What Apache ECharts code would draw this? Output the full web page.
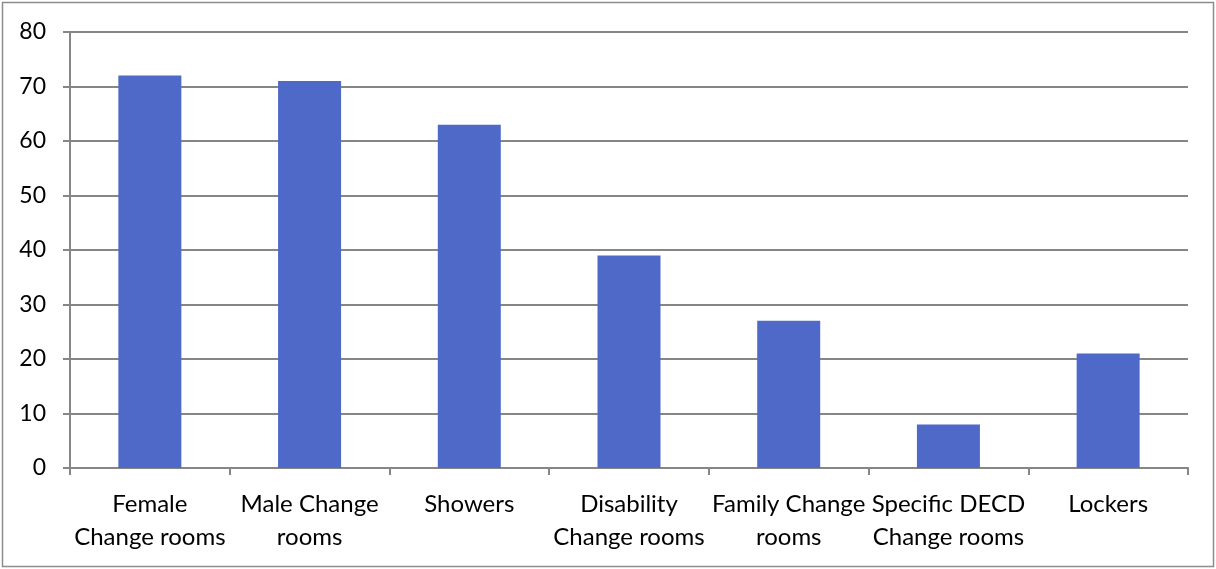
<!DOCTYPE html>
<html>
<head>
<meta charset="utf-8">
<script src="https://cdn.jsdelivr.net/npm/echarts@6/dist/echarts.min.js"></script>
<style>
  html, body { margin: 0; padding: 0; background: #fff; }
  #chart { width: 1216px; height: 569px; }
</style>
</head>
<body>
<div id="chart"></div>
<script>
// Facilities and number of sites providing each
const categories = [
  'Female\nChange rooms',
  'Male Change\nrooms',
  'Showers',
  'Disability\nChange rooms',
  'Family Change\nrooms',
  'Specific DECD\nChange rooms',
  'Lockers'
];
const counts = [72, 71, 63, 39, 27, 8, 21];
const yTicks = { min: 0, max: 80, interval: 10 };

const gray = '#868686';
const font = 'Lato, "Open Sans", sans-serif';

const chart = echarts.init(document.getElementById('chart'));
chart.setOption({
  animation: false,
  backgroundColor: '#fff',
  graphic: [{
    type: 'rect',
    shape: { x: 2.5, y: 2.5, width: 1211, height: 564 },
    style: { fill: 'none', stroke: '#8c8c8c', lineWidth: 1.5 },
    silent: true
  }],
  grid: { left: 70, right: 28, top: 32, bottom: 101, containLabel: false },
  xAxis: {
    type: 'category',
    data: categories,
    axisLine: { show: true, lineStyle: { color: gray, width: 2 } },
    axisTick: { show: true, alignWithLabel: false, length: 7, lineStyle: { color: gray, width: 2 } },
    axisLabel: {
      interval: 0,
      color: '#000',
      fontFamily: font,
      fontSize: 24,
      lineHeight: 33,
      margin: 20
    },
    splitLine: { show: false }
  },
  yAxis: {
    type: 'value',
    min: yTicks.min,
    max: yTicks.max,
    interval: yTicks.interval,
    axisLine: { show: true, lineStyle: { color: gray, width: 2 } },
    axisTick: { show: true, length: 7, lineStyle: { color: gray, width: 2 } },
    axisLabel: { color: '#000', fontFamily: font, fontSize: 23, margin: 24 },
    splitLine: { show: true, lineStyle: { color: gray, width: 2 } }
  },
  series: [{
    type: 'bar',
    data: counts,
    barWidth: 63,
    itemStyle: { color: '#4f69c9' }
  }]
});
</script>
</body>
</html>
